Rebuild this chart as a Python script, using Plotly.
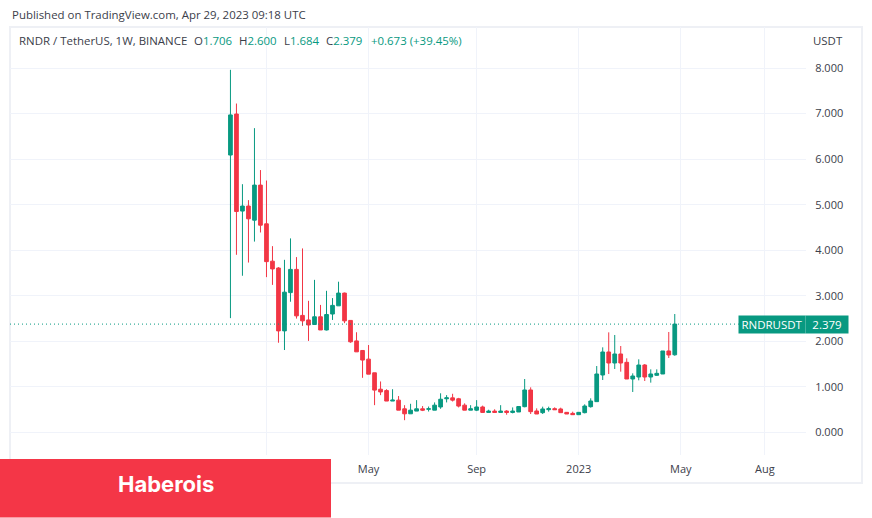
import plotly.graph_objects as go
import pandas as pd

# Weekly OHLC
LAST_WEEK = "2023-04-24"
opens = [6.09,6.99,4.86,4.97,4.66,5.43,4.58,3.76,3.61,2.23,3.07,3.58,2.57,2.47,2.37,2.54,2.25,2.60,2.78,3.06,2.46,2.01,
         1.80,1.61,1.31,0.95,0.92,0.69,0.71,0.52,0.41,0.47,0.52,0.51,0.49,0.56,0.74,0.76,0.74,0.60,0.49,0.49,0.56,0.44,0.47,0.44,0.47,0.44,0.45,
         0.567,0.933,0.472,0.435,0.501,0.523,0.516,0.442,0.420,0.391,0.435,0.567,0.677,1.262,1.767,1.525,1.723,1.540,1.174,1.218,1.481,1.218,1.255,1.284,1.789,1.706]
highs = [7.96,7.22,5.45,5.10,6.68,5.76,5.53,4.09,3.63,3.79,4.26,3.85,4.04,2.89,3.35,2.80,3.11,2.95,3.31,3.07,2.46,2.20,
         1.81,1.92,1.31,1.12,0.95,0.95,0.80,0.60,0.63,0.71,0.58,0.57,0.66,0.86,0.82,0.85,0.76,0.64,0.60,0.71,0.59,0.50,0.51,0.60,0.49,0.55,0.58,
         1.174,0.991,0.530,0.567,0.567,0.552,0.545,0.450,0.457,0.450,0.618,0.750,1.459,1.869,2.198,2.140,1.898,1.628,1.298,1.606,1.503,1.386,1.386,1.789,2.206,2.600]
lows = [2.51,3.90,3.44,3.73,4.19,4.39,3.41,3.24,1.97,1.81,2.87,2.50,2.34,2.01,2.36,2.25,2.24,2.47,2.78,2.40,1.97,1.77,
        1.20,1.28,0.60,0.82,0.69,0.69,0.49,0.27,0.41,0.47,0.47,0.46,0.49,0.52,0.66,0.68,0.55,0.49,0.49,0.47,0.44,0.44,0.44,0.44,0.39,0.42,0.45,
        0.552,0.406,0.406,0.406,0.457,0.501,0.435,0.406,0.384,0.391,0.420,0.545,0.677,1.152,1.284,1.394,1.335,1.174,0.889,1.145,1.130,1.094,1.240,1.284,1.635,1.684]
closes = [6.97,4.85,4.97,4.69,5.43,4.55,3.75,3.59,2.23,3.08,3.58,2.56,2.45,2.36,2.54,2.25,2.59,2.79,3.06,2.45,1.99,1.77,
          1.59,1.28,0.93,0.89,0.69,0.71,0.49,0.41,0.49,0.52,0.49,0.52,0.60,0.73,0.76,0.71,0.58,0.49,0.52,0.56,0.44,0.47,0.44,0.47,0.44,0.47,0.57,
          0.933,0.457,0.406,0.516,0.523,0.501,0.435,0.406,0.391,0.442,0.581,0.691,1.284,1.767,1.525,1.723,1.525,1.174,1.240,1.481,1.218,1.284,1.298,1.789,1.701,2.379]
dates = pd.date_range(end=LAST_WEEK, periods=len(closes), freq="7D")

last_close = 2.379
price_ticks = [0, 1, 2, 3, 4, 5, 6, 7, 8]
time_ticks = ["2022-01-03", "2022-05-02", "2022-09-05", "2023-01-02", "2023-05-01", "2023-08-07"]
time_labels = ["", "May", "Sep", "2023", "May", "Aug"]

UP = "#089981"
DOWN = "#f23645"
GRID = "#f0f3fa"
TEXT = "#3b404a"
FONT = "Open Sans"

fig = go.Figure(go.Candlestick(
    x=dates, open=opens, high=highs, low=lows, close=closes,
    increasing=dict(line=dict(color=UP, width=1), fillcolor=UP),
    decreasing=dict(line=dict(color=DOWN, width=1), fillcolor=DOWN),
    whiskerwidth=0, showlegend=False, hoverinfo="skip",
))

PW, PH = 796, 428   # plot size in pixels
def px(x): return (x - 10) / PW
def py(y): return (455 - y) / PH

shapes = [
    dict(type="rect", xref="paper", yref="paper", x0=px(10), x1=px(862), y0=py(483), y1=py(27),
         line=dict(color="#eef0f5", width=2), fillcolor="rgba(0,0,0,0)", layer="below"),
    dict(type="line", xref="paper", yref="y", x0=0, x1=px(739), y0=last_close, y1=last_close,
         line=dict(color=UP, width=1, dash="1px,3px")),
    dict(type="rect", xref="paper", yref="paper", x0=px(0), x1=px(331), y0=py(517.5), y1=py(459),
         line=dict(width=0), fillcolor="#f43647", layer="above"),
]

def note(text, x, y, size=11.45, color=TEXT, anchor="left", **kw):
    return dict(text=text, xref="paper", yref="paper", x=px(x), y=py(y), showarrow=False,
                xanchor=anchor, yanchor="middle", align=anchor,
                font=dict(family=kw.pop("family", FONT), size=size, color=color), **kw)

g = lambda s: f'<span style="color:{UP}">{s}</span>'
annotations = [
    note("Published on TradingView.com, Apr 29, 2023 09:18 UTC", 9.5, 14.5),
    note("RNDR / TetherUS, 1W, BINANCE", 16.5, 41),
    note(f"O{g('1.706')}", 192, 41),
    note(f"H{g('2.600')}", 237, 41),
    note(f"L{g('1.684')}", 282, 41),
    note(f"C{g('2.379')}", 324, 41),
    note(g("+0.673 (+39.45%)"), 368.5, 41),
    note("USDT", 845, 41, anchor="right"),
    note("<b>Haberois</b>", 166, 484, size=22, color="white", anchor="center", family="Inter"),
    dict(text="RNDRUSDT", xref="paper", yref="y", x=px(772), y=last_close, showarrow=False,
         bgcolor=UP, width=66, height=17, borderpad=0, xanchor="center", yanchor="middle",
         font=dict(family=FONT, size=11.5, color="white")),
    dict(text="2.379", xref="paper", yref="y", x=px(827), y=last_close, showarrow=False,
         bgcolor=UP, width=42, height=17, borderpad=0, xanchor="center", yanchor="middle",
         font=dict(family=FONT, size=11.5, color="white")),
]

fig.update_layout(
    width=872, height=518, autosize=False,
    margin=dict(l=10, r=66, t=27, b=63, pad=0),
    paper_bgcolor="white", plot_bgcolor="white",
    boxgap=0.12,
    shapes=shapes, annotations=annotations,
    xaxis=dict(type="date", range=["2021-03-10", "2023-09-24"], rangeslider=dict(visible=False),
               tickmode="array", tickvals=time_ticks, ticktext=time_labels,
               showgrid=True, gridcolor=GRID, gridwidth=1, zeroline=False, showline=False,
               ticks="outside", ticklen=4, tickcolor="rgba(0,0,0,0)",
               tickfont=dict(family=FONT, size=11, color=TEXT)),
    yaxis=dict(side="right", range=[-0.494, 8.90], tickmode="array", tickvals=price_ticks,
               tickformat=".3f", showgrid=True, gridcolor=GRID, gridwidth=1, zeroline=False,
               showline=False, ticks="outside", ticklen=6, tickcolor="rgba(0,0,0,0)",
               tickfont=dict(family=FONT, size=11, color=TEXT)),
)

fig.write_html("out.html", config=dict(displayModeBar=False),
               post_script="document.body.style.margin='0';")
